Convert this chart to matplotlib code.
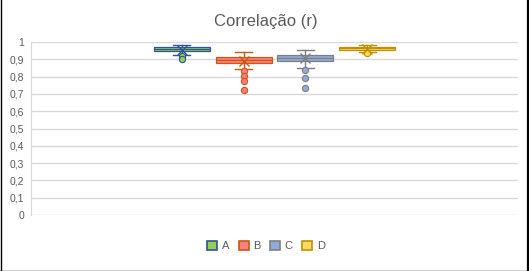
import matplotlib.pyplot as plt
from matplotlib.patches import Patch
from matplotlib.lines import Line2D

plt.rcParams['font.family'] = ['Liberation Sans', 'DejaVu Sans']

# Box statistics
series = ['A', 'B', 'C', 'D']
whis_lo = [0.923, 0.842, 0.848, 0.940]
q1 = [0.950, 0.880, 0.892, 0.955]
median = [0.960, 0.895, 0.905, 0.963]
q3 = [0.969, 0.913, 0.925, 0.971]
whis_hi = [0.981, 0.942, 0.952, 0.981]
means = [0.955, 0.893, 0.906, 0.962]
outliers = [[0.918, 0.900],
            [0.831, 0.802, 0.773, 0.721],
            [0.836, 0.790, 0.732],
            [0.937]]
yticks = [0, 0.1, 0.2, 0.3, 0.4, 0.5, 0.6, 0.7, 0.8, 0.9, 1]
ytick_labels = ['0', '0,1', '0,2', '0,3', '0,4', '0,5', '0,6', '0,7', '0,8', '0,9', '1']

# Styles
fills = ['#92D050', '#FF7C80', '#8FAADC', '#FFD966']
edges = ['#2F5597', '#C55A11', '#7F7F7F', '#BF9000']
text_grey = '#595959'
grid_grey = '#D9D9D9'

fig = plt.figure(figsize=(5.29, 2.71), dpi=100)
ax = fig.add_axes([0.0586, 0.2066, 0.9204, 0.6384])

spacing = 0.127
width = 0.115
for i, name in enumerate(series):
    pos = (i - 1.5) * spacing
    stats = [dict(label=name, whislo=whis_lo[i], q1=q1[i], med=median[i],
                  q3=q3[i], whishi=whis_hi[i], mean=means[i],
                  fliers=outliers[i])]
    ec = edges[i]
    ax.bxp(stats, positions=[pos], widths=width, patch_artist=True,
           showmeans=True, showcaps=True, manage_ticks=False,
           boxprops=dict(facecolor=fills[i], edgecolor=ec, linewidth=0.9),
           medianprops=dict(color=ec, linewidth=0.9),
           whiskerprops=dict(color=ec, linewidth=1.0),
           capprops=dict(color=ec, linewidth=1.0),
           capwidths=width * 0.3,
           meanprops=dict(marker='x', markeredgecolor=ec, markersize=7,
                          markeredgewidth=1.0),
           flierprops=dict(marker='o', markerfacecolor=fills[i],
                           markeredgecolor=ec, markersize=4.5,
                           markeredgewidth=0.8))

ax.set_xlim(-0.5, 0.5)
ax.set_ylim(0, 1)
ax.set_yticks(yticks)
ax.set_yticklabels(ytick_labels)
ax.set_xticks([])
ax.yaxis.grid(True, color=grid_grey, linewidth=1)
ax.set_axisbelow(True)
for s in ['top', 'right', 'bottom']:
    ax.spines[s].set_visible(False)
ax.spines['left'].set_color(grid_grey)
ax.tick_params(axis='y', length=0, pad=5, labelsize=7.5, labelcolor=text_grey)

fig.suptitle('Correlação (r)', x=0.503, y=0.95, fontsize=12, color=text_grey)

handles = [Patch(facecolor=fills[i], edgecolor=edges[i], linewidth=1.2)
           for i in range(len(series))]
fig.legend(handles, series, loc='center', bbox_to_anchor=(0.503, 0.092),
           ncol=4, frameon=False, fontsize=8, labelcolor=text_grey,
           handlelength=0.9, handleheight=0.9, handletextpad=0.45,
           columnspacing=0.8)

# chart area border (left, right, bottom)
px_w = 1 / 529
px_h = 1 / 271
fig.add_artist(Line2D([px_w * 0.5, px_w * 0.5], [0, 1], color='black', linewidth=1.0))
fig.add_artist(Line2D([1 - px_w, 1 - px_w], [0, 1], color='black', linewidth=1.6))
fig.add_artist(Line2D([0, 1], [px_h * 0.5, px_h * 0.5], color='black', linewidth=1.0))

fig.savefig('out.png', dpi=100)
